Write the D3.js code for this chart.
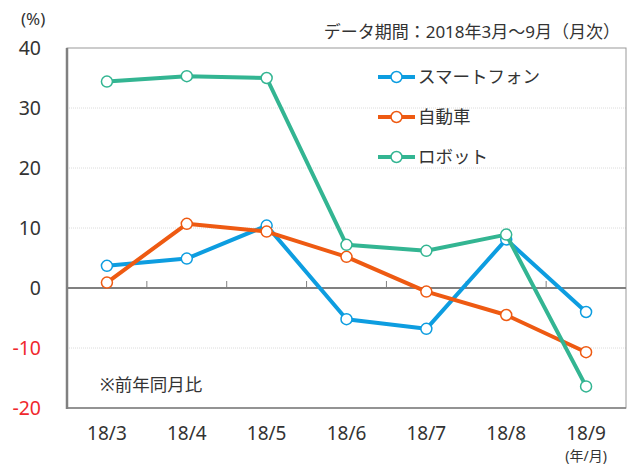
<!DOCTYPE html>
<html>
<head>
<meta charset="utf-8">
<script src="https://cdn.jsdelivr.net/npm/d3@7"></script>
<style>
  body { margin: 0; background: #fff; }
  svg text { font-family: "Noto Sans", "Noto Sans CJK JP", sans-serif; fill: #333; }
</style>
</head>
<body>
<div id="chart"></div>
<script>
// Data (y-o-y %)
var months = ["18/3", "18/4", "18/5", "18/6", "18/7", "18/8", "18/9"];
var yTicks = [-20, -10, 0, 10, 20, 30, 40];
var smartphone = [3.7, 4.9, 10.4, -5.2, -6.8, 8.1, -4.0];
var auto = [0.9, 10.7, 9.4, 5.2, -0.6, -4.5, -10.7];
var robot = [34.4, 35.3, 35.0, 7.2, 6.2, 8.9, -16.4];

var seriesNames = ["スマートフォン", "自動車", "ロボット"];
var seriesColors = ["#0d9de0", "#ee5a12", "#33b592"];
var series = [smartphone, auto, robot];

// Basic Setup
var width = 634,
height = 466,
margin = { left: 67, right: 8, top: 48, bottom: 58 };

var svg = d3.select("#chart").append("svg")
  .attr("width", width)
  .attr("height", height);

var x = d3.scaleBand()
    .domain(months)
    .range([margin.left, width - margin.right]);

var y = d3.scaleLinear()
    .domain([-20, 40])
    .range([height - margin.bottom, margin.top]);

// grid lines
svg.selectAll("line.grid")
    .data(yTicks.filter(function(d) { return d != 0 && d != 40 && d != -20; }))
  .enter().append("line")
    .attr("class", "grid")
    .attr("x1", margin.left)
    .attr("x2", width - margin.right)
    .attr("y1", d => y(d))
    .attr("y2", d => y(d))
    .attr("stroke", "#dcdcdc")
    .attr("stroke-dasharray", "1,1");

// frame
svg.append("rect")
    .attr("x", margin.left)
    .attr("y", margin.top)
    .attr("width", width - margin.right - margin.left)
    .attr("height", y(-20) - y(40))
    .attr("fill", "none")
    .attr("stroke", "#999")
    .attr("stroke-width", 1);

svg.append("line")
    .attr("x1", margin.left).attr("x2", margin.left)
    .attr("y1", margin.top).attr("y2", y(-20) + 1)
    .attr("stroke", "#808080").attr("stroke-width", 2.5);

svg.append("line")
    .attr("x1", margin.left).attr("x2", width - margin.right)
    .attr("y1", y(-20)).attr("y2", y(-20))
    .attr("stroke", "#808080").attr("stroke-width", 1.5);

// zero line with tick marks
svg.append("line")
    .attr("x1", margin.left).attr("x2", width - margin.right)
    .attr("y1", y(0)).attr("y2", y(0))
    .attr("stroke", "#808080").attr("stroke-width", 2);

svg.selectAll("line.xtick")
    .data(months.slice(1))
  .enter().append("line")
    .attr("class", "xtick")
    .attr("x1", d => x(d)).attr("x2", d => x(d))
    .attr("y1", y(0)).attr("y2", y(0) - 7)
    .attr("stroke", "#808080").attr("stroke-width", 1);

// y labels
svg.selectAll("text.ylab")
    .data(yTicks)
  .enter().append("text")
    .attr("class", "ylab")
    .attr("x", 41)
    .attr("y", d => y(d) + 7)
    .attr("text-anchor", "end")
    .style("font-size", "19.5px")
    .style("fill", d => d < 0 ? "#f0282d" : "#333")
    .text(d => d);

svg.append("text")
    .attr("x", 21).attr("y", 25)
    .style("font-size", "17px")
    .text("(%)");

// x labels
svg.selectAll("text.xlab")
    .data(months)
  .enter().append("text")
    .attr("class", "xlab")
    .attr("x", d => x(d) + x.bandwidth() / 2)
    .attr("y", 440)
    .attr("text-anchor", "middle")
    .style("font-size", "19px")
    .text(d => d);

svg.append("text")
    .attr("x", x("18/9") + x.bandwidth() / 2)
    .attr("y", 461)
    .attr("text-anchor", "middle")
    .style("font-size", "14px")
    .text("(年/月)");

svg.append("text")
    .attr("x", 620).attr("y", 38)
    .attr("text-anchor", "end")
    .style("font-size", "17px")
    .text("データ期間：2018年3月～9月（月次）");

svg.append("text")
    .attr("x", 100).attr("y", 391)
    .style("font-size", "17.5px")
    .text("※前年同月比");

// lines and markers
var line = d3.line()
    .x((d, i) => x(months[i]) + x.bandwidth() / 2)
    .y(d => y(d));

series.forEach(function(s, k) {
  svg.append("path")
      .datum(s)
      .attr("d", line)
      .attr("fill", "none")
      .attr("stroke", seriesColors[k])
      .attr("stroke-width", 4)
      .attr("stroke-linejoin", "round");

  svg.selectAll("circle.m" + k)
      .data(s)
    .enter().append("circle")
      .attr("class", "m" + k)
      .attr("cx", (d, i) => x(months[i]) + x.bandwidth() / 2)
      .attr("cy", d => y(d))
      .attr("r", 5.5)
      .attr("fill", "#fff")
      .attr("stroke", seriesColors[k])
      .attr("stroke-width", 1.5);
});

// legend
var legend = svg.selectAll("g.legend")
    .data(seriesNames)
  .enter().append("g")
    .attr("class", "legend")
    .attr("transform", (d, i) => "translate(378," + [77, 117, 157][i] + ")");

legend.append("line")
    .attr("x1", 0).attr("x2", 37)
    .attr("stroke", (d, i) => seriesColors[i])
    .attr("stroke-width", 4);

legend.append("circle")
    .attr("cx", 18.5)
    .attr("r", 5.5)
    .attr("fill", "#fff")
    .attr("stroke", (d, i) => seriesColors[i])
    .attr("stroke-width", 1.5);

legend.append("text")
    .attr("x", 40)
    .attr("y", 6)
    .style("font-size", "17.5px")
    .text(d => d);
</script>
</body>
</html>
